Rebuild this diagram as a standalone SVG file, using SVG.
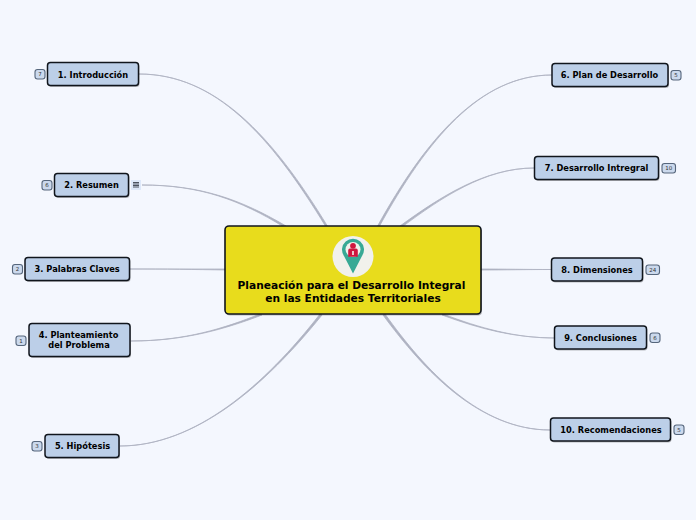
<svg xmlns="http://www.w3.org/2000/svg" width="696" height="520" viewBox="0 0 696 520">
<style>
text{font-family:"DejaVu Sans",sans-serif;fill:#000;text-anchor:middle}
.n{fill:#bccfe8;stroke:#10151c;stroke-width:1.5}
.sh{fill:#000;opacity:.25}
.t{font-size:8.25px;font-weight:700}
.h{font-size:10.650px;font-weight:700}
.c{fill:#aeb2c2;stroke:#aeb2c2;stroke-width:.8;stroke-linejoin:round}
.b{fill:#cbd9ed;stroke:#56667c;stroke-width:1.1}
.bt{font-size:5.5px;fill:#333}
</style>
<rect width="696" height="520" fill="#f4f7fe"/>
<g id="connectors">
<path class="c" d="M139 74C215 74 270 135 326 227L328 227C272 135 215 74 139 74Z"/>
<path class="c" d="M142 185C200 185 240 200 284 227L286 226C240 199 200 185 142 185Z"/>
<path class="c" d="M130 269C165 269 195 269 226 269L226 270C195 269.500 165 269 130 269Z"/>
<path class="c" d="M131 341C185 341 225 328 260 314L262 315C225 329 185 341 131 341Z"/>
<path class="c" d="M120 446C195 446 265 385 320 314L322 315C265 386 195 446 120 446Z"/>
<path class="c" d="M552 75C480 75 425 140 377 227L379 227C427 140 480 75 552 75Z"/>
<path class="c" d="M534 168C485 168 440 197 400 226L402 227C441 198 485 168 534 168Z"/>
<path class="c" d="M552 269.500C525 269.500 505 269 481 269L481 270C505 270 525 269.500 552 269.500Z"/>
<path class="c" d="M555 338C515 338 480 328 443 314L442 315C480 329 515 338 555 338Z"/>
<path class="c" d="M550 430C480 430 425 370 385 314L383 315C424 371 480 430 550 430Z"/>
</g>
<g id="central">
<rect x="226" y="228" width="256" height="87.500" rx="4" class="sh"/>
<rect x="225" y="226" width="256" height="88" rx="4" fill="#e8dc1c" stroke="#10151c" stroke-width="1.6"/>
<circle cx="353" cy="256.500" r="20.500" fill="#f1f1ec"/>
<path d="M353 273.500L344 256A11 11 0 1 1 362 256Z" fill="#38a995"/>
<circle cx="353" cy="249.500" r="7.500" fill="#f1f1ec"/>
<circle cx="353" cy="245.800" r="2.900" fill="#d0163f"/>
<path d="M348.200 256.700V250.500Q348.200 248.600 350 248.600H356Q357.800 248.600 357.800 250.500V256.700Z" fill="#d0163f"/>
<rect x="352.200" y="251" width="1.600" height="4" fill="#f1f1ec"/>
<text class="h" x="351.500" y="289">Planeación para el Desarrollo Integral</text>
<text class="h" x="353" y="302">en las Entidades Territoriales</text>
</g>
<g id="node1">
<rect x="48.500" y="64" width="91" height="23" rx="3" class="sh"/>
<rect x="47.500" y="62.500" width="91" height="23" rx="3" class="n"/>
<text class="t" x="93" y="77.500">1. Introducción</text>
<rect x="35" y="69.500" width="10" height="9.500" rx="2.500" class="b"/><text class="bt" x="40" y="76.300">7</text>
</g>
<g id="node2">
<rect x="55.500" y="175" width="74" height="23" rx="3" class="sh"/>
<rect x="54.500" y="173.500" width="74" height="23" rx="3" class="n"/>
<text class="t" x="91.500" y="188">2. Resumen</text>
<rect x="42" y="180.500" width="10" height="9.500" rx="2.500" class="b"/><text class="bt" x="47" y="187.300">6</text>
<rect x="131" y="180" width="10" height="10" fill="#dde8fa"/>
<path d="M133 182.500H139M133 184H139M133 185.500H139M133 187H139" stroke="#4a5260" stroke-width="1" fill="none"/>
</g>
<g id="node3">
<rect x="26" y="259" width="104.500" height="23" rx="3" class="sh"/>
<rect x="25" y="257.500" width="104.500" height="23" rx="3" class="n"/>
<text class="t" x="77.200" y="272">3. Palabras Claves</text>
<rect x="12.500" y="264.500" width="10" height="9.500" rx="2.500" class="b"/><text class="bt" x="17.500" y="271.300">2</text>
</g>
<g id="node4">
<rect x="30" y="325" width="101" height="33" rx="3" class="sh"/>
<rect x="29" y="323.500" width="101" height="33" rx="3" class="n"/>
<text class="t" x="78.500" y="338">4. Planteamiento</text>
<text class="t" x="79" y="348">del Problema</text>
<rect x="16" y="336" width="10" height="9.500" rx="2.500" class="b"/><text class="bt" x="21" y="342.800">1</text>
</g>
<g id="node5">
<rect x="46" y="436" width="74" height="23" rx="3" class="sh"/>
<rect x="45" y="434.500" width="74" height="23" rx="3" class="n"/>
<text class="t" x="82.500" y="449">5. Hipótesis</text>
<rect x="32" y="441.500" width="10" height="9.500" rx="2.500" class="b"/><text class="bt" x="37" y="448.300">3</text>
</g>
<g id="node6">
<rect x="553" y="65" width="116" height="23" rx="3" class="sh"/>
<rect x="552" y="63.500" width="116" height="23" rx="3" class="n"/>
<text class="t" x="609.500" y="78">6. Plan de Desarrollo</text>
<rect x="671" y="70.500" width="10" height="9.500" rx="2.500" class="b"/><text class="bt" x="676" y="77.300">5</text>
</g>
<g id="node7">
<rect x="535.500" y="158" width="124" height="23" rx="3" class="sh"/>
<rect x="534.500" y="156.500" width="124" height="23" rx="3" class="n"/>
<text class="t" x="596.500" y="171">7. Desarrollo Intregral</text>
<rect x="662" y="163.500" width="13.500" height="9.500" rx="2.500" class="b"/><text class="bt" x="668.700" y="170.300">10</text>
</g>
<g id="node8">
<rect x="552.500" y="259.500" width="91" height="23" rx="3" class="sh"/>
<rect x="551.500" y="258" width="91" height="23" rx="3" class="n"/>
<text class="t" x="597" y="273">8. Dimensiones</text>
<rect x="646" y="265" width="13.500" height="9.500" rx="2.500" class="b"/><text class="bt" x="652.700" y="271.800">24</text>
</g>
<g id="node9">
<rect x="555.500" y="327.500" width="92" height="23" rx="3" class="sh"/>
<rect x="554.500" y="326" width="92" height="23" rx="3" class="n"/>
<text class="t" x="600.500" y="341">9. Conclusiones</text>
<rect x="650" y="333" width="10" height="9.500" rx="2.500" class="b"/><text class="bt" x="655" y="339.800">6</text>
</g>
<g id="node10">
<rect x="551.500" y="419.500" width="120" height="23" rx="3" class="sh"/>
<rect x="550.500" y="418" width="120" height="23" rx="3" class="n"/>
<text class="t" x="611" y="433">10. Recomendaciones</text>
<rect x="674" y="425" width="10" height="9.500" rx="2.500" class="b"/><text class="bt" x="679" y="431.800">5</text>
</g>
</svg>
